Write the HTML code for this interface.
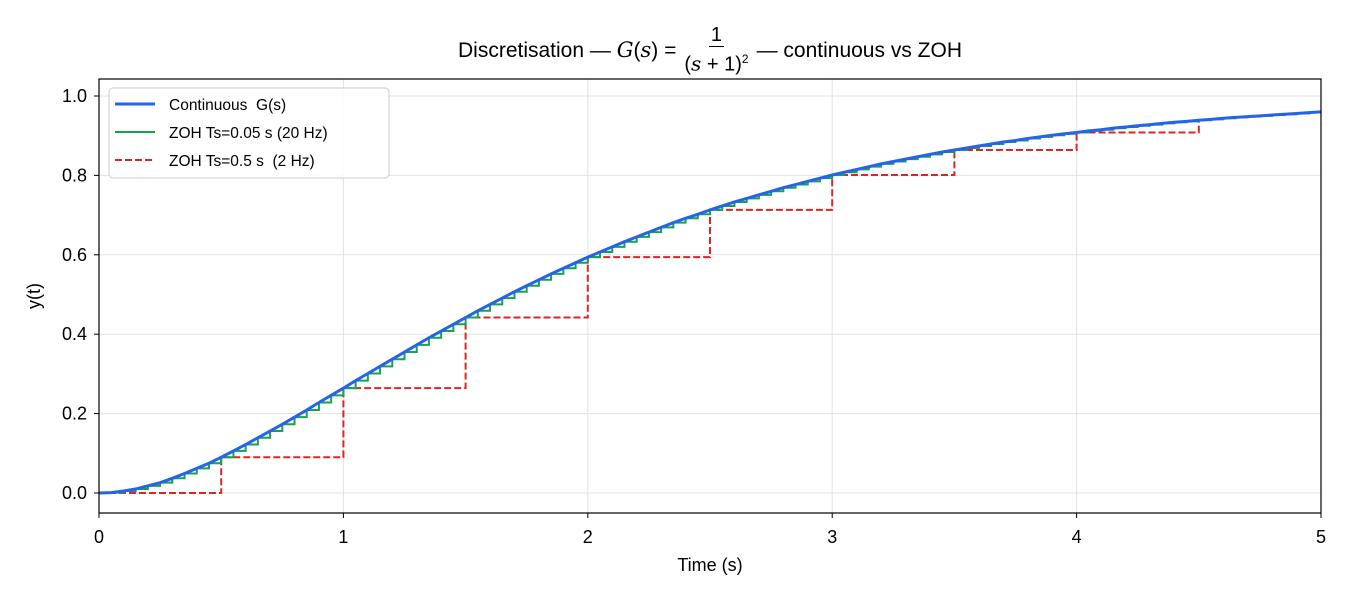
<!DOCTYPE html>
<html><head><meta charset="utf-8"><style>
body{margin:0;background:#fff;font-family:"Liberation Sans","DejaVu Sans",sans-serif}
#wrap{position:relative;width:1350px;height:600px}
#title{position:absolute;left:0;width:1420px;top:24px;text-align:center;font-size:21px;color:#000;display:flex;justify-content:center;align-items:center;gap:5px}
.frac{display:inline-flex;flex-direction:column;align-items:center;font-size:20px;margin:0 3px}
.frac .num{border-bottom:1.3px solid #000;padding:0 2px;line-height:22px}
.frac .den{line-height:25px}
i{font-family:"DejaVu Serif","Liberation Serif",serif}
</style></head><body>
<div id="wrap">
<div id="title"><span>Discretisation — <i>G</i>(<i>s</i>) =</span><span class="frac"><span class="num">1</span><span class="den">(<i>s</i> + 1)<sup style="font-size:12px">2</sup></span></span><span>— continuous vs ZOH</span></div>
<svg id="svg" width="1350" height="600" style="position:absolute;left:0;top:0"></svg>
</div>
<script>
const yCont=[0,0.001,0.005,0.010,0.018,0.026,0.037,0.049,0.062,0.075,0.090,0.106,0.122,0.139,0.156,0.173,0.191,0.209,0.228,0.246,0.264,0.283,0.301,0.319,0.337,0.355,0.373,0.391,0.408,0.425,0.442,0.459,0.475,0.491,0.507,0.522,0.537,0.552,0.566,0.580,0.594,0.607,0.620,0.633,0.645,0.657,0.669,0.681,0.692,0.702,0.713,0.723,0.733,0.742,0.751,0.760,0.769,0.777,0.785,0.793,0.801,0.808,0.815,0.822,0.829,0.835,0.841,0.847,0.853,0.859,0.864,0.869,0.874,0.879,0.884,0.888,0.893,0.897,0.901,0.905,0.908,0.912,0.915,0.919,0.922,0.925,0.928,0.931,0.934,0.936,0.939,0.941,0.944,0.946,0.948,0.950,0.952,0.954,0.956,0.958,0.960];
const dtCont=0.05;
const yZoh20=yCont.slice(0,100);
const dtZoh20=0.05;
const yZoh2=[0,0.090,0.264,0.442,0.594,0.713,0.801,0.864,0.908,0.939];
const dtZoh2=0.5;
const xTicks=[0,1,2,3,4,5];
const yTicks=[0,0.2,0.4,0.6,0.8,1.0];
const yTickLabels=["0.0","0.2","0.4","0.6","0.8","1.0"];

const L=99,R=1321,T=79,B=513;
const xmin=0,xmax=5,ymin=-0.0504,ymax=1.0428;
const X=v=>L+(v-xmin)/(xmax-xmin)*(R-L);
const Y=v=>B-(v-ymin)/(ymax-ymin)*(B-T);
const svg=document.getElementById('svg');
const NS='http://www.w3.org/2000/svg';
function mk(tag,attrs,parent){const e=document.createElementNS(NS,tag);for(const k in attrs)e.setAttribute(k,attrs[k]);(parent||svg).appendChild(e);return e;}

xTicks.forEach(t=>{const g=mk('line',{x1:X(t),x2:X(t),y1:T,y2:B,stroke:'#e3e3e3','stroke-width':1});

});
yTicks.forEach(t=>{const g=mk('line',{x1:L,x2:R,y1:Y(t),y2:Y(t),stroke:'#e3e3e3','stroke-width':1});

});

function stepPath(vals,dt){let d='';vals.forEach((v,i)=>{const x0=X(i*dt);d+=(i?'L':'M')+x0+','+Y(v);if(i<vals.length-1)d+='L'+X((i+1)*dt)+','+Y(v);});return d;}
const clip=mk('clipPath',{id:'c'});mk('rect',{x:L,y:T,width:R-L,height:B-T},clip);

const red=mk('path',{d:stepPath(yZoh2,dtZoh2),fill:'none',stroke:'#dc2626','stroke-width':2,'stroke-dasharray':'7,3','clip-path':'url(#c)'});


const green=mk('path',{d:stepPath(yZoh20,dtZoh20),fill:'none',stroke:'#16a34a','stroke-width':2,'clip-path':'url(#c)'});


const blue=mk('path',{d:yCont.map((v,i)=>(i?'L':'M')+X(i*dtCont)+','+Y(v)).join(''),fill:'none',stroke:'#2563eb','stroke-width':3,'clip-path':'url(#c)'});



const fr=mk('rect',{x:L,y:T,width:R-L,height:B-T,fill:'none',stroke:'#000','stroke-width':1.2});



xTicks.forEach(t=>{mk('line',{x1:X(t),x2:X(t),y1:B,y2:B+5,stroke:'#000'});
const tx=mk('text',{x:X(t),y:B+30,'text-anchor':'middle','font-size':18});tx.textContent=t;

});
yTicks.forEach((t,i)=>{mk('line',{x1:L-5,x2:L,y1:Y(t),y2:Y(t),stroke:'#000'});
const tx=mk('text',{x:L-12,y:Y(t)+6,'text-anchor':'end','font-size':18});tx.textContent=yTickLabels[i];

});

const xl=mk('text',{x:(L+R)/2,y:571,'text-anchor':'middle','font-size':18});xl.textContent='Time (s)';


const yl=mk('text',{x:40,y:(T+B)/2,'text-anchor':'middle','font-size':18,transform:`rotate(-90 40 ${(T+B)/2})`});yl.textContent='y(t)';



const lg=mk('g',{});


mk('rect',{x:109,y:88,width:280,height:90,rx:4,fill:'#fff','fill-opacity':0.85,stroke:'#ccc'},lg);
const items=[['Continuous  G(s)','#2563eb',3,''],['ZOH Ts=0.05 s (20 Hz)','#16a34a',2,''],['ZOH Ts=0.5 s  (2 Hz)','#dc2626',2,'7,3']];
items.forEach((it,i)=>{const y=104+i*28;
const ln=mk('line',{x1:115,x2:155,y1:y,y2:y,stroke:it[1],'stroke-width':it[2],'stroke-dasharray':it[3]},lg);


const tx=mk('text',{x:169,y:y+6,'font-size':15.5},lg);tx.textContent=it[0];tx.style.whiteSpace='pre';

});
</script>
</body></html>
